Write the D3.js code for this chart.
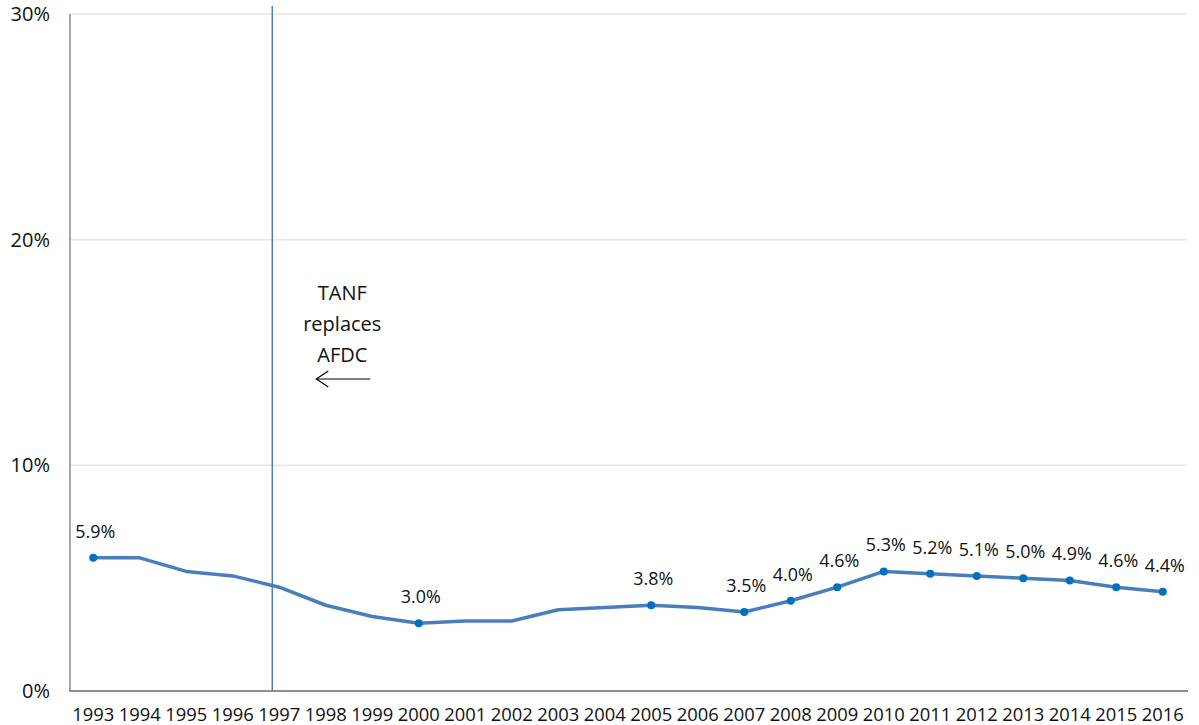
<!DOCTYPE html>
<html>
<head>
<meta charset="utf-8">
<script src="https://cdn.jsdelivr.net/npm/d3@7"></script>
<style>
  body { margin: 0; background: #fff; }
  text { font-family: "Open Sans", "DejaVu Sans", sans-serif; fill: #111; }
</style>
</head>
<body>
<script>
const years = d3.range(1993, 2017).map(String);
const rates = [5.9, 5.9, 5.3, 5.1, 4.6, 3.8, 3.3, 3.0, 3.1, 3.1, 3.6, 3.7, 3.8, 3.7, 3.5, 4.0, 4.6, 5.3, 5.2, 5.1, 5.0, 4.9, 4.6, 4.4];
const labeledYears = ['1993', '2000', '2005', '2007', '2008', '2009', '2010', '2011', '2012', '2013', '2014', '2015', '2016'];
const yTicks = [0, 10, 20, 30];
const noteLines = ['TANF', 'replaces', 'AFDC'];
const markerYear = '1997';

const width = 1199, height = 725;
const margin = {left: 70, right: 13, top: 14, bottom: 34};

const data = years.map((y, i) => ({year: y, value: rates[i]}));

const $svg = d3.select('body').append('svg').attr('width', width).attr('height', height);

const x = d3.scaleBand()
  .domain(years)
  .range([margin.left, width - margin.right]);

const y = d3.scaleLinear()
  .domain([0, 30])
  .range([height - margin.bottom, margin.top]);

const cx = d => x(d) + x.bandwidth() / 2;

// gridlines
$svg.append('g')
  .selectAll('line').data(yTicks.filter(t => t > 0))
  .enter().append('line')
  .attr('x1', margin.left).attr('x2', width - margin.right)
  .attr('y1', d => y(d)).attr('y2', d => y(d))
  .attr('stroke', '#e6e6e6').attr('stroke-width', 1.5);

// y axis labels
$svg.append('g')
  .selectAll('text').data(yTicks)
  .enter().append('text')
  .attr('x', 50).attr('y', d => y(d) + 7)
  .attr('text-anchor', 'end')
  .style('font-size', '20px')
  .text(d => d + '%');

// axis lines
$svg.append('line')
  .attr('x1', margin.left).attr('x2', margin.left)
  .attr('y1', y(30)).attr('y2', y(0))
  .attr('stroke', '#a6a6a6').attr('stroke-width', 2);
$svg.append('line')
  .attr('x1', margin.left - 1).attr('x2', width - margin.right + 2)
  .attr('y1', y(0)).attr('y2', y(0))
  .attr('stroke', '#8f8f8f').attr('stroke-width', 2);

// x labels
$svg.append('g')
  .selectAll('text').data(years)
  .enter().append('text')
  .attr('x', d => cx(d)).attr('y', 721)
  .attr('text-anchor', 'middle')
  .attr('textLength', 42).attr('lengthAdjust', 'spacingAndGlyphs')
  .style('font-size', '18px')
  .text(d => d);

// policy marker line
const vx = cx(markerYear) - x.step() * 0.15;
$svg.append('line')
  .attr('x1', vx).attr('x2', vx)
  .attr('y1', 6).attr('y2', y(0))
  .attr('stroke', '#4a7ebb').attr('stroke-width', 1.5);

// annotation
const noteX = vx + 70;
$svg.append('g')
  .selectAll('text').data(noteLines)
  .enter().append('text')
  .attr('x', noteX).attr('y', (d, i) => 300 + i * 31)
  .attr('text-anchor', 'middle')
  .style('font-size', '20px')
  .text(d => d);

const arrowY = 379;
$svg.append('line')
  .attr('x1', noteX - 26).attr('x2', noteX + 28)
  .attr('y1', arrowY).attr('y2', arrowY)
  .attr('stroke', '#000').attr('stroke-width', 1.2);
$svg.append('path')
  .attr('d', `M${noteX - 14},${arrowY - 8} L${noteX - 26},${arrowY} L${noteX - 14},${arrowY + 8}`)
  .attr('fill', 'none').attr('stroke', '#000').attr('stroke-width', 1.2);

// series line
const line = d3.line().x(d => cx(d.year)).y(d => y(d.value));
$svg.append('path')
  .datum(data)
  .attr('d', line)
  .attr('fill', 'none')
  .attr('stroke', '#4a7ebb')
  .attr('stroke-width', 3.5)
  .attr('stroke-linejoin', 'round');

const labeled = data.filter(d => labeledYears.includes(d.year));

$svg.append('g')
  .selectAll('circle').data(labeled)
  .enter().append('circle')
  .attr('cx', d => cx(d.year)).attr('cy', d => y(d.value))
  .attr('r', 4)
  .attr('fill', '#0070c0');

$svg.append('g')
  .selectAll('text').data(labeled)
  .enter().append('text')
  .attr('x', d => cx(d.year) + 2).attr('y', d => y(d.value) - 20)
  .attr('text-anchor', 'middle')
  .attr('textLength', 40).attr('lengthAdjust', 'spacingAndGlyphs')
  .style('font-size', '19px')
  .text(d => d.value.toFixed(1) + '%');
</script>
</body>
</html>
